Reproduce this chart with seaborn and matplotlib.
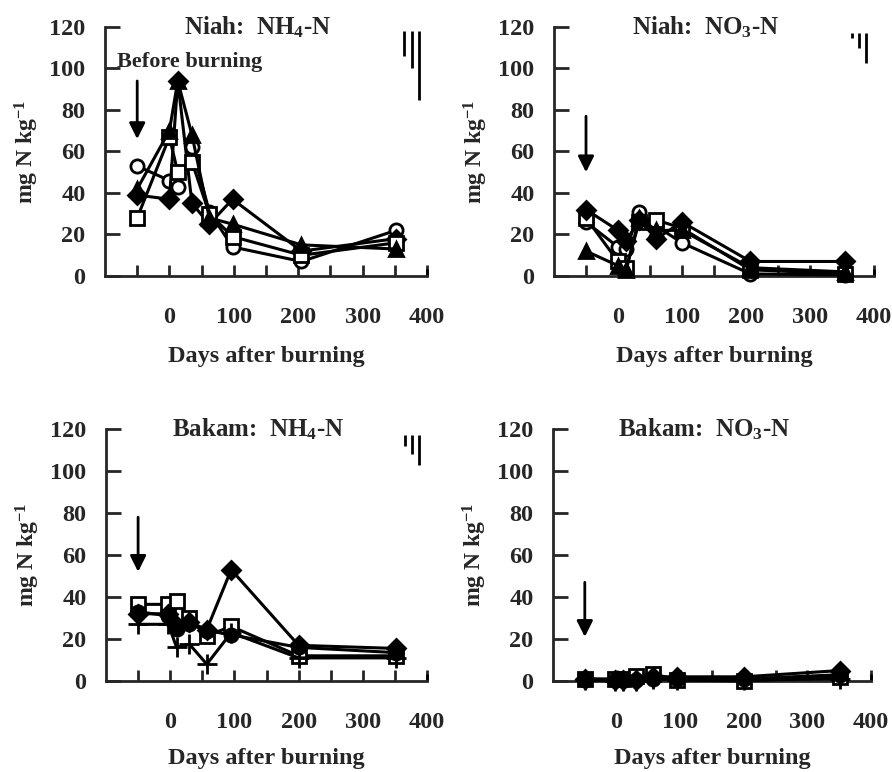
import matplotlib
matplotlib.use("Agg")
import matplotlib.pyplot as plt
from matplotlib.ticker import MultipleLocator, FixedLocator
import pandas as pd
import seaborn as sns

sns.set_style("ticks")
plt.rcParams["font.family"] = ["Liberation Serif", "DejaVu Serif"]
plt.rcParams["font.weight"] = "bold"
plt.rcParams["mathtext.fontset"] = "custom"
plt.rcParams["mathtext.bf"] = "Liberation Serif:bold"
plt.rcParams["mathtext.rm"] = "Liberation Serif:bold"
plt.rcParams["mathtext.default"] = "bf"

# ---- data (days after burning, mg N kg-1) ----
niah_days = [-50, 0, 13, 35, 62, 98, 205, 352]
niah_nh4_circle = [53, 46, 43, 62, 31, 14, 7, 22]
niah_nh4_diamond = [39, 37, 94, 35, 25, 37, 12, 18]
niah_nh4_square = [28, 67, 50, 55, 30, 19, 10, 16]
niah_nh4_triangle = [42, 70, 94, 68, 28, 25, 15, 13]

niah_no3_days = [-50, 0, 13, 33, 60, 100, 207, 354]
niah_no3_diamond = [32, 22, 17, 27, 18, 26, 7, 7]
niah_no3_circle = [26, 14, 13, 31, 24, 16, 1, 0.5]
niah_no3_square = [28, 7, 4, 26, 27, 23, 3, 1]
niah_no3_triangle = [12, 5, 3, 28, 22, 22, 4, 2]

bakam_days = [-50, -3, 10, 30, 57, 95, 200, 352]
bakam_nh4_square = [36.5, 36.5, 38, 30, 21.5, 26, 12, 12]
bakam_nh4_diamond = [32, 32, 26, 28, 24.5, 53, 17, 15.5]
bakam_nh4_plus = [27, 27, 16, 17.5, 8, 23, 11, 11]
bakam_nh4_dot = [33, 31, 25, 27, 24, 22, 16, 13.5]

bakam_no3_diamond = [1, 0.5, 0.3, 0.5, 2, 2, 2, 5]
bakam_no3_square = [1, 1, 1, 2.5, 3.5, 0.5, 0, 2]
bakam_no3_dot = [0.5, 0.5, 0.5, 0.5, 1, 1, 1, 3]
bakam_no3_plus = [0.5, 0, 0, 0, 1, 0.5, 0.5, 1]

# LSD bars (x, top, bottom)
lsd_x = [365, 376, 387]
niah_nh4_lsd_top = [118, 118, 118]
niah_nh4_lsd_bot = [106, 100, 85]
niah_no3_lsd_top = [117, 117, 117]
niah_no3_lsd_bot = [114.5, 110, 102.5]
bakam_nh4_lsd_top = [117, 117, 117]
bakam_nh4_lsd_bot = [112, 108, 103]

# arrow (start y, end y) at day -50
arrow_niah_nh4 = (94, 66)
arrow_niah_no3 = (77, 50)
arrow_bakam_nh4 = (78, 52)
arrow_bakam_no3 = (47, 21)

MARK = {
    "circle": dict(marker="o", mfc="white", ms=9.5),
    "dot": dict(marker="o", mfc="black", ms=9.5),
    "diamond": dict(marker="D", mfc="black", ms=9),
    "square": dict(marker="s", mfc="white", ms=9.5),
    "triangle": dict(marker="^", mfc="black", ms=10.5),
    "plus": dict(marker="+", mfc="black", ms=14),
}

W, H = 892, 772
fig = plt.figure(figsize=(W / 100, H / 100), dpi=100)


def panel(rect, title, days, series, arrow, lsd=None, before=False, xlab_y=-0.28):
    ax = fig.add_axes([rect[0] / W, 1 - rect[3] / H,
                       (rect[1] - rect[0]) / W, (rect[3] - rect[2]) / H])
    for kind, vals in series:
        df = pd.DataFrame({"day": days, "val": vals})
        m = MARK[kind]
        sns.lineplot(data=df, x="day", y="val", ax=ax, color="black", lw=2.2,
                     marker=m["marker"], markersize=m["ms"], mfc=m["mfc"],
                     markeredgecolor="black", markeredgewidth=2,
                     sort=False, legend=False, clip_on=False, zorder=3)
    ax.set_xlim(-100, 400)
    ax.set_ylim(0, 120)
    ax.xaxis.set_major_locator(FixedLocator([0, 100, 200, 300, 400]))
    ax.xaxis.set_minor_locator(FixedLocator([-50, 50, 150, 250, 350]))
    ax.yaxis.set_major_locator(MultipleLocator(20))
    ax.tick_params(axis="x", which="both", direction="in", length=8, width=2,
                   pad=22, labelsize=17.5)
    ax.tick_params(axis="y", direction="in", length=11, width=2, pad=14,
                   labelsize=17.5)
    for lab in ax.get_xticklabels() + ax.get_yticklabels():
        lab.set_fontweight("bold")
    for s in ["top", "right"]:
        ax.spines[s].set_visible(False)
    for s in ["left", "bottom"]:
        ax.spines[s].set_linewidth(2)
    # small upward tick at right end of x axis
    ax.vlines(400, 0, 3.5, color="black", lw=2, clip_on=False)
    ax.set_xlabel("Days after burning", fontsize=17.5, fontweight="bold")
    ax.xaxis.set_label_coords(0.5, xlab_y)
    ax.set_ylabel("mg N kg$^{-1}$", fontsize=17, fontweight="bold")
    ax.yaxis.set_label_coords(-0.2, 0.5)
    ax.text(0.475, 1.0, title, transform=ax.transAxes, ha="center",
            va="center", fontsize=18, fontweight="bold")
    ax.annotate("", xy=(-50, arrow[1]), xytext=(-50, arrow[0]),
                arrowprops=dict(arrowstyle="-|>", color="black", lw=2,
                                mutation_scale=24, shrinkA=0, shrinkB=0))
    if before:
        ax.text(-82, 103, "Before burning", fontsize=16, fontweight="bold",
                ha="left", va="center")
    if lsd is not None:
        ax.vlines(lsd_x, lsd[1], lsd[0], color="black", lw=2)
    return ax


panel((105, 427, 27, 276), "Niah:  NH$_4$-N", niah_days,
      [("circle", niah_nh4_circle), ("diamond", niah_nh4_diamond),
       ("square", niah_nh4_square), ("triangle", niah_nh4_triangle)],
      arrow_niah_nh4, (niah_nh4_lsd_top, niah_nh4_lsd_bot), before=True)

panel((554, 874, 27, 276), "Niah:  NO$_3$-N", niah_no3_days,
      [("circle", niah_no3_circle), ("square", niah_no3_square),
       ("triangle", niah_no3_triangle), ("diamond", niah_no3_diamond)],
      arrow_niah_no3, (niah_no3_lsd_top, niah_no3_lsd_bot))

panel((106, 427, 429, 681), "Bakam:  NH$_4$-N", bakam_days,
      [("square", bakam_nh4_square), ("plus", bakam_nh4_plus),
       ("dot", bakam_nh4_dot), ("diamond", bakam_nh4_diamond)],
      arrow_bakam_nh4, (bakam_nh4_lsd_top, bakam_nh4_lsd_bot), xlab_y=-0.265)

panel((553, 871, 429, 681), "Bakam:  NO$_3$-N", bakam_days,
      [("square", bakam_no3_square), ("plus", bakam_no3_plus),
       ("dot", bakam_no3_dot), ("diamond", bakam_no3_diamond)],
      arrow_bakam_no3, xlab_y=-0.265)

fig.savefig("out.png", dpi=100)
